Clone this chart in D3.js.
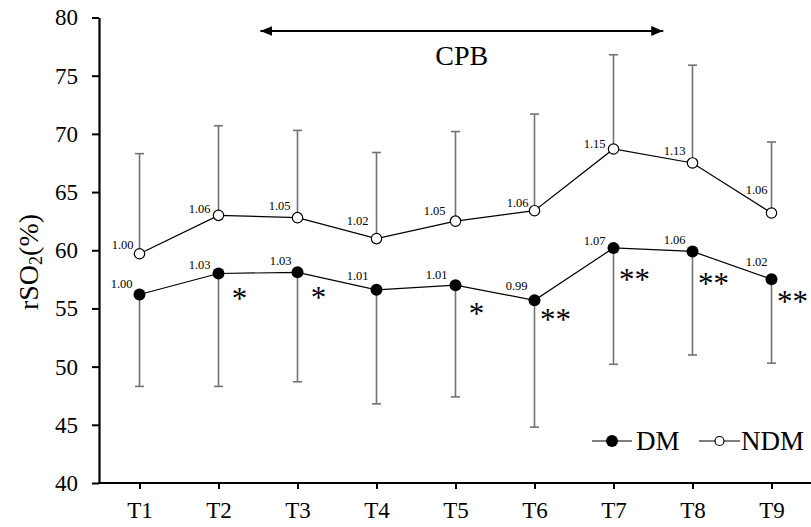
<!DOCTYPE html>
<html>
<head>
<meta charset="utf-8">
<script src="https://cdn.jsdelivr.net/npm/d3@7"></script>
<style>
  html, body { margin: 0; padding: 0; background: #fff; }
  svg { display: block; font-family: "Times New Roman", "Liberation Serif", serif; }
</style>
</head>
<body>
<svg id="chart" width="811" height="527"></svg>
<script>
// Time points
const categories = ["T1", "T2", "T3", "T4", "T5", "T6", "T7", "T8", "T9"];

// rSO2 (%) mean and SD per group
const dmMean  = [56.2, 58.0, 58.1, 56.6, 57.0, 55.7, 60.2, 59.9, 57.5];
const dmSD    = [7.9, 9.7, 9.4, 9.8, 9.6, 10.9, 10.0, 8.9, 7.2];
const ndmMean = [59.7, 63.0, 62.8, 61.0, 62.5, 63.4, 68.7, 67.5, 63.2];
const ndmSD   = [8.6, 7.7, 7.5, 7.4, 7.7, 8.3, 8.1, 8.4, 6.1];

// Ratio to baseline (T1) printed beside each point
const dmRatio  = ["1.00", "1.03", "1.03", "1.01", "1.01", "0.99", "1.07", "1.06", "1.02"];
const ndmRatio = ["1.00", "1.06", "1.05", "1.02", "1.05", "1.06", "1.15", "1.13", "1.06"];

// Significance marks for DM vs NDM
const dmSig = ["", "*", "*", "", "*", "**", "**", "**", "**"];

// Y axis ticks
const yTicks = [40, 45, 50, 55, 60, 65, 70, 75, 80];

// Label placement nudges (dx, dy from the point)
const dmLabelNudge  = [[-7,-6],[-8,-5],[-6,-7],[-8,-10],[-8,-6],[-7,-10],[-8,-3],[-7,-7],[-4,-13]];
const ndmLabelNudge = [[-6,-5],[-8,-2],[-7,-8],[-8,-14],[-10,-6],[-6,-4],[-8,-1],[-7,-8],[-4,-19]];
const sigNudge = [0, 19, 20, 0, 23, 14, 26, 27, 17];

const FONT = '"Times New Roman", "Liberation Serif", serif';
const svg = d3.select("#chart");

const x = d3.scalePoint().domain(categories).range([100, 811]).padding(0.5);
const y = d3.scaleLinear().domain([40, 80]).range([483, 17.5]);

// Axes
const yAxis = svg.append("g")
  .attr("transform", "translate(99,0)")
  .call(d3.axisLeft(y).tickValues(yTicks).tickSize(7).tickSizeOuter(0).tickPadding(14));
yAxis.select(".domain").attr("stroke", "#000").attr("stroke-width", 2.2);
yAxis.selectAll(".tick line").attr("stroke", "#000").attr("stroke-width", 2);
yAxis.selectAll(".tick text").attr("font-family", FONT).attr("font-size", 23).attr("fill", "#000");

const xAxis = svg.append("g")
  .attr("transform", "translate(0,483)")
  .call(d3.axisBottom(x).tickSize(6).tickSizeOuter(0).tickPadding(13));
xAxis.select(".domain").attr("stroke", "#000").attr("stroke-width", 2.2)
  .attr("d", "M98,0H811");
xAxis.selectAll(".tick line").attr("stroke", "#000").attr("stroke-width", 2);
xAxis.selectAll(".tick text").attr("font-family", FONT).attr("font-size", 23).attr("fill", "#000");

// Y axis title
const yTitle = svg.append("text")
  .attr("transform", "translate(38,262) rotate(-90)")
  .attr("text-anchor", "middle")
  .attr("font-family", FONT).attr("font-size", 28).attr("fill", "#000");
yTitle.append("tspan").text("rSO");
yTitle.append("tspan").attr("font-size", 18).attr("dy", 4).text("2");
yTitle.append("tspan").attr("dy", -4).text("(%)");

// CPB span arrow
const cpbStart = x("T2") + 0.53 * x.step();
const cpbEnd = x("T7") + 0.63 * x.step();
svg.append("defs").append("marker")
  .attr("id", "arrowHead")
  .attr("viewBox", "0 0 12 10").attr("refX", 12).attr("refY", 5)
  .attr("markerWidth", 12).attr("markerHeight", 10)
  .attr("markerUnits", "userSpaceOnUse")
  .attr("orient", "auto-start-reverse")
  .append("path").attr("d", "M0,0L12,5L0,10Z").attr("fill", "#000");
svg.append("line")
  .attr("x1", cpbStart).attr("x2", cpbEnd).attr("y1", 31).attr("y2", 31)
  .attr("stroke", "#000").attr("stroke-width", 2)
  .attr("marker-start", "url(#arrowHead)").attr("marker-end", "url(#arrowHead)");
svg.append("text")
  .attr("x", (cpbStart + cpbEnd) / 2).attr("y", 65)
  .attr("text-anchor", "middle")
  .attr("font-family", FONT).attr("font-size", 28).attr("fill", "#000")
  .text("CPB");

const ndm = categories.map((c, i) => ({ c, m: ndmMean[i], sd: ndmSD[i], lab: ndmRatio[i], n: ndmLabelNudge[i] }));
const dm = categories.map((c, i) => ({ c, m: dmMean[i], sd: dmSD[i], lab: dmRatio[i], n: dmLabelNudge[i], sig: dmSig[i], sn: sigNudge[i] }));

const ERR = "#727272";
const capW = 4.5;

// Error bars: NDM upward, DM downward
function errorBars(data, dir) {
  const g = svg.append("g").attr("stroke", ERR).attr("stroke-width", 1.6);
  g.selectAll("line.v").data(data).join("line").attr("class", "v")
    .attr("x1", d => x(d.c)).attr("x2", d => x(d.c))
    .attr("y1", d => y(d.m)).attr("y2", d => y(d.m + dir * d.sd));
  g.selectAll("line.cap").data(data).join("line").attr("class", "cap")
    .attr("x1", d => x(d.c) - capW).attr("x2", d => x(d.c) + capW)
    .attr("y1", d => y(d.m + dir * d.sd)).attr("y2", d => y(d.m + dir * d.sd));
}
errorBars(ndm, 1);
errorBars(dm, -1);

// Lines
const line = d3.line().x(d => x(d.c)).y(d => y(d.m));
svg.append("path").datum(ndm).attr("d", line).attr("fill", "none").attr("stroke", "#000").attr("stroke-width", 1.2);
svg.append("path").datum(dm).attr("d", line).attr("fill", "none").attr("stroke", "#000").attr("stroke-width", 1.2);

// Markers
svg.append("g").selectAll("circle").data(ndm).join("circle")
  .attr("cx", d => x(d.c)).attr("cy", d => y(d.m)).attr("r", 5.2)
  .attr("fill", "#fff").attr("stroke", "#000").attr("stroke-width", 1.2);
svg.append("g").selectAll("circle").data(dm).join("circle")
  .attr("cx", d => x(d.c)).attr("cy", d => y(d.m)).attr("r", 6)
  .attr("fill", "#000");

// Ratio labels
function ratioLabels(data) {
  svg.append("g").selectAll("text").data(data).join("text")
    .attr("x", d => x(d.c) + d.n[0]).attr("y", d => y(d.m) + d.n[1])
    .attr("text-anchor", "end")
    .attr("font-family", FONT).attr("font-size", 12.5).attr("fill", "#000")
    .text(d => d.lab);
}
ratioLabels(ndm);
ratioLabels(dm);

// Significance asterisks
svg.append("g").selectAll("text").data(dm.filter(d => d.sig)).join("text")
  .attr("x", d => x(d.c) + 21).attr("y", d => y(d.m) + d.sn + 16)
  .attr("text-anchor", "middle")
  .attr("font-family", FONT).attr("font-size", 31).attr("fill", "#000")
  .text(d => d.sig);

// Legend
const lg = svg.append("g");
lg.append("line").attr("x1", 592).attr("x2", 632).attr("y1", 441).attr("y2", 441).attr("stroke", "#000").attr("stroke-width", 1.2);
lg.append("circle").attr("cx", 612).attr("cy", 441).attr("r", 6).attr("fill", "#000");
lg.append("text").attr("x", 636).attr("y", 450).attr("font-family", FONT).attr("font-size", 27).attr("fill", "#000").text("DM");
lg.append("line").attr("x1", 699).attr("x2", 740).attr("y1", 441).attr("y2", 441).attr("stroke", "#000").attr("stroke-width", 1.2);
lg.append("circle").attr("cx", 719.5).attr("cy", 441).attr("r", 4.5).attr("fill", "#fff").attr("stroke", "#000").attr("stroke-width", 1.2);
lg.append("text").attr("x", 741).attr("y", 450).attr("font-family", FONT).attr("font-size", 27).attr("fill", "#000").text("NDM");
</script>
</body>
</html>
